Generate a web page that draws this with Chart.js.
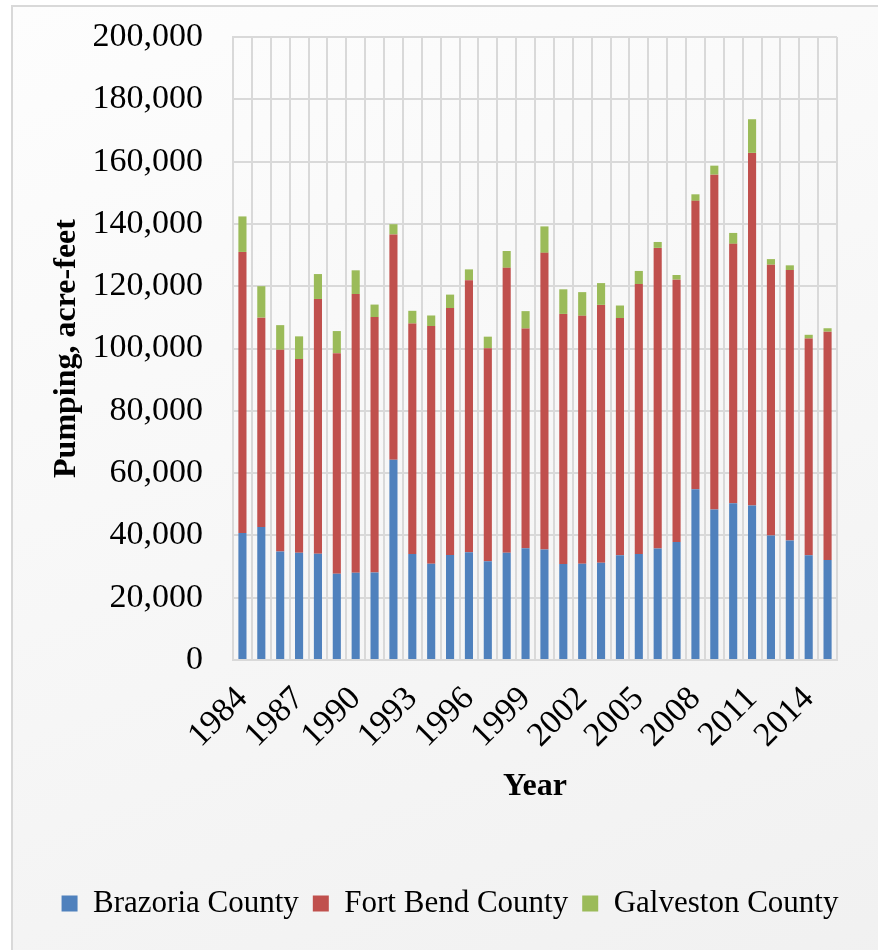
<!DOCTYPE html>
<html>
<head>
<meta charset="utf-8">
<script src="https://cdn.jsdelivr.net/npm/chart.js@4.4.1/dist/chart.umd.min.js"></script>
<style>
  html, body { margin: 0; padding: 0; overflow: hidden; background: #ffffff; }
  #frame {
    position: absolute; left: 11px; top: 5px; width: 900px; height: 1000px;
    border: 2px solid #d9d9d9;
    background: linear-gradient(160deg, #fdfdfd 0%, #f6f6f6 55%, #f0f0f0 100%);
  }
  #wrap { position: absolute; left: 0; top: 0; width: 878px; height: 950px; }
</style>
</head>
<body>
<div id="frame"></div>
<div id="wrap"><canvas id="chart" width="878" height="950"></canvas></div>
<script>
// pumping in acre-feet
var years = [1984, 1985, 1986, 1987, 1988, 1989, 1990, 1991, 1992, 1993, 1994, 1995, 1996, 1997, 1998, 1999,
             2000, 2001, 2002, 2003, 2004, 2005, 2006, 2007, 2008, 2009, 2010, 2011, 2012, 2013, 2014, 2015];

var brazoria = [40800, 42700, 34800, 34400, 34100, 27700, 28000, 28100, 64300, 34000, 30900, 33700, 34600, 31700, 34400, 35900,
                35500, 30800, 30900, 31200, 33600, 34000, 35800, 37900, 54800, 48300, 50300, 49600, 40000, 38400, 33600, 32100];

var fortBend = [90200, 67200, 64800, 62200, 81800, 70800, 89500, 82000, 72300, 74000, 76300, 79300, 87300, 68400, 91500, 70500,
                95200, 80300, 79600, 82800, 76200, 86700, 96500, 84200, 92600, 107500, 83300, 113200, 86900, 86800, 69600, 73300];

var galveston = [11400, 10100, 7900, 7300, 8000, 7100, 7600, 4000, 3300, 4100, 3400, 4300, 3500, 3700, 5400, 5600,
                 8500, 7900, 7600, 7000, 4000, 4200, 1900, 1500, 2100, 2900, 3500, 10800, 1800, 1500, 1200, 1100];

var yTicks = [0, 20000, 40000, 60000, 80000, 100000, 120000, 140000, 160000, 180000, 200000];

var serif = "'Liberation Serif', 'Times New Roman', serif";
var gridColor = '#d9d9d9';

var canvas = document.getElementById('chart');
var chart = new Chart(canvas, {
  type: 'bar',
  data: {
    labels: years,
    datasets: [
      { label: 'Brazoria County', data: brazoria, backgroundColor: '#4f81bd' },
      { label: 'Fort Bend County', data: fortBend, backgroundColor: '#c0504d' },
      { label: 'Galveston County', data: galveston, backgroundColor: '#9bbb59' }
    ]
  },
  options: {
    responsive: false,
    animation: false,
    layout: { padding: { left: 41, right: 19, top: 37, bottom: 21 } },
    datasets: { bar: { barPercentage: 0.43, categoryPercentage: 1 } },
    plugins: {
      tooltip: { enabled: false },
      legend: {
        position: 'bottom',
        labels: {
          boxWidth: 16,
          boxHeight: 16,
          padding: 14,
          color: '#000',
          font: { family: serif, size: 31 }
        }
      }
    },
    scales: {
      x: {
        stacked: true,
        grid: { color: gridColor, lineWidth: 2, drawTicks: false },
        border: { color: gridColor, width: 2 },
        ticks: {
          autoSkip: false,
          maxRotation: 45,
          minRotation: 45,
          padding: 19,
          color: '#000',
          font: { family: serif, size: 34 },
          callback: function (val, idx) {
            return idx % 3 === 0 ? String(years[idx]) : '';
          }
        },
        title: {
          display: true,
          text: 'Year',
          color: '#000',
          font: { family: serif, size: 32, weight: 'bold' },
          padding: { top: 0, bottom: 68 }
        },
        afterFit: function (scale) { scale.height = 214; }
      },
      y: {
        stacked: true,
        min: 0,
        max: 200000,
        grid: { color: gridColor, lineWidth: 2, drawTicks: false },
        border: { color: gridColor, width: 2 },
        afterBuildTicks: function (scale) {
          scale.ticks = yTicks.map(function (v) { return { value: v }; });
        },
        ticks: {
          padding: 30,
          color: '#000',
          font: { family: serif, size: 34 },
          callback: function (v) { return v.toLocaleString('en-US'); }
        },
        title: {
          display: true,
          text: 'Pumping, acre-feet',
          color: '#000',
          font: { family: serif, size: 32, weight: 'bold' },
          padding: { top: 7, bottom: 0 }
        },
        afterFit: function (scale) {
          scale.width = 192;
          // top label fits inside the layout padding already
          scale.paddingTop = 0;
          scale.paddingBottom = 0;
        }
      },
      // empty right-hand axis, only to keep the plot clear of the right edge
      y2: {
        position: 'right',
        grid: { drawOnChartArea: false, drawTicks: false },
        border: { display: false },
        ticks: { display: false },
        afterFit: function (scale) { scale.width = 22; }
      }
    }
  }
});
</script>
</body>
</html>
